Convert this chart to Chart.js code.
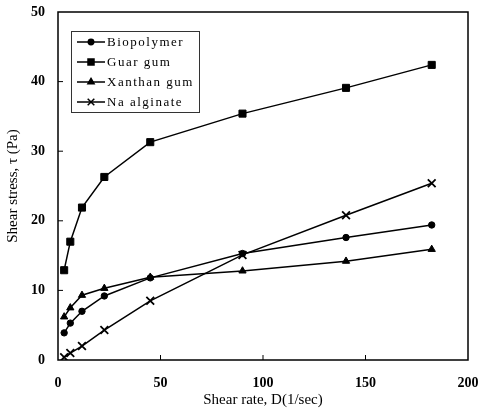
<!DOCTYPE html>
<html lang="en">
<head>
<meta charset="UTF-8" />
<title>Shear stress vs shear rate</title>
<script src="https://cdn.jsdelivr.net/npm/chart.js"></script>
<style>
  html,body{margin:0;padding:0;background:#fff}
  #wrap{width:479px;height:413px}
</style>
</head>
<body>
<div id="wrap"><canvas id="c" width="479" height="413"></canvas></div>
<script>
// values
const shearRate  = [3, 6, 11.7, 22.6, 45, 90, 140.5, 182.3];
const biopolymer = [3.9, 5.3, 7.0, 9.2, 11.8, 15.3, 17.6, 19.4];
const guarGum    = [12.9, 17.0, 21.9, 26.3, 31.3, 35.4, 39.1, 42.4];
const xanthanGum = [6.2, 7.5, 9.3, 10.3, 11.9, 12.8, 14.2, 15.9];
const naAlginate = [0.4, 1.0, 2.0, 4.3, 8.5, 15.1, 20.8, 25.4];

const seriesNames = ['Biopolymer', 'Guar gum', 'Xanthan gum', 'Na alginate'];
const seriesData  = [biopolymer, guarGum, xanthanGum, naAlginate];
const markers     = ['circle', 'rect', 'triangle', 'crossRot'];
const markerSize  = [3.2, 5, 4.2, 5.5];

const xTicks = [0, 50, 100, 150, 200];
const yTicks = [0, 10, 20, 30, 40, 50];

const serif = '"Liberation Serif", "DejaVu Serif", serif';

const datasets = seriesData.map((vals, i) => ({
  label: seriesNames[i],
  data: vals.map((v, j) => ({x: shearRate[j], y: v})),
  borderColor: '#000',
  backgroundColor: '#000',
  borderWidth: 1.5,
  pointStyle: markers[i],
  pointRadius: markerSize[i],
  pointBorderWidth: markers[i] === 'crossRot' ? 1.8 : 1,
  pointBackgroundColor: '#000',
  pointBorderColor: '#000',
  tension: 0
}));

// frame + inward tick marks
const frame = {
  id: 'frame',
  afterDraw(chart) {
    const {ctx, chartArea: a, scales} = chart;
    ctx.save();
    ctx.strokeStyle = '#000';
    ctx.lineWidth = 1.5;
    ctx.strokeRect(a.left, a.top, a.right - a.left, a.bottom - a.top);
    ctx.lineWidth = 1;
    ctx.beginPath();
    xTicks.slice(1, -1).forEach(t => {
      const px = scales.x.getPixelForValue(t);
      ctx.moveTo(px, a.bottom); ctx.lineTo(px, a.bottom - 5);
    });
    yTicks.slice(1, -1).forEach(t => {
      const py = scales.y.getPixelForValue(t);
      ctx.moveTo(a.left, py); ctx.lineTo(a.left + 5, py);
    });
    ctx.stroke();
    ctx.restore();
  }
};

// boxed legend inside the plot, upper left
const boxLegend = {
  id: 'boxLegend',
  afterDraw(chart) {
    const {ctx, chartArea: a} = chart;
    const x0 = a.left + 13, y0 = a.top + 19, w = 128, h = 81;
    ctx.save();
    ctx.fillStyle = '#fff';
    ctx.fillRect(x0, y0, w, h);
    ctx.strokeStyle = '#333';
    ctx.lineWidth = 1;
    ctx.strokeRect(x0 + 0.5, y0 + 0.5, w, h);
    chart.data.datasets.forEach((ds, i) => {
      const y = y0 + 11 + i * 20;
      ctx.strokeStyle = '#000';
      ctx.fillStyle = '#000';
      ctx.lineWidth = 1.5;
      ctx.beginPath();
      ctx.moveTo(x0 + 6, y); ctx.lineTo(x0 + 34, y);
      ctx.stroke();
      Chart.helpers.drawPoint(ctx, {
        pointStyle: ds.pointStyle,
        radius: ds.pointRadius * 0.85,
        rotation: 0,
        borderWidth: ds.pointBorderWidth
      }, x0 + 20, y);
      ctx.font = '13px ' + serif;
      ctx.letterSpacing = '1.5px';
      ctx.textBaseline = 'middle';
      ctx.textAlign = 'left';
      ctx.fillText(ds.label, x0 + 36, y + 1);
    });
    ctx.restore();
  }
};

new Chart(document.getElementById('c'), {
  type: 'line',
  data: {datasets},
  options: {
    responsive: false,
    animation: false,
    devicePixelRatio: 1,
    layout: {padding: {top: 12, right: 11, left: 0, bottom: 0}},
    plugins: {legend: {display: false}, tooltip: {enabled: false}},
    scales: {
      x: {
        type: 'linear',
        min: 0, max: 200,
        afterBuildTicks: s => { s.ticks = xTicks.map(v => ({value: v})); },
        afterFit: s => { s.height = 53; s.paddingLeft = 0; s.paddingRight = 0; },
        grid: {display: false},
        border: {display: false},
        ticks: {color: '#000', padding: 7, maxRotation: 0,
                font: {family: serif, size: 14, weight: 'bold'}},
        title: {display: true, text: 'Shear rate, D(1/sec)', color: '#000',
                font: {family: serif, size: 15}, padding: {top: 0, bottom: 4}}
      },
      y: {
        type: 'linear',
        min: 0, max: 50,
        afterBuildTicks: s => { s.ticks = yTicks.map(v => ({value: v})); },
        afterFit: s => { s.width = 58; s.paddingTop = 0; s.paddingBottom = 0; },
        grid: {display: false},
        border: {display: false},
        ticks: {color: '#000', padding: 5,
                font: {family: serif, size: 14, weight: 'bold'}},
        title: {display: true, text: 'Shear stress, τ (Pa)', color: '#000',
                font: {family: serif, size: 15}, padding: {top: 4, bottom: 0}}
      }
    }
  },
  plugins: [frame, boxLegend]
});
</script>
</body>
</html>
